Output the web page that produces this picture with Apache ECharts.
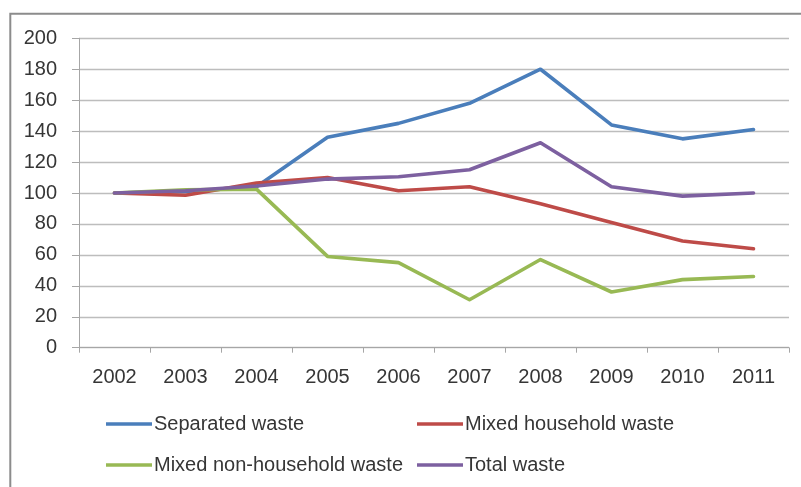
<!DOCTYPE html>
<html>
<head>
<meta charset="utf-8">
<script src="https://cdn.jsdelivr.net/npm/echarts@6/dist/echarts.min.js"></script>
<style>
  html, body { margin: 0; padding: 0; background: #fff; }
  #chart { width: 801px; height: 487px; }
</style>
</head>
<body>
<div id="chart"></div>
<script>
// Waste volume index (2002 = 100)
const years = ['2002', '2003', '2004', '2005', '2006', '2007', '2008', '2009', '2010', '2011'];
const separatedWaste = [100, 101, 104, 136, 145, 158, 180, 144, 135, 141];
const mixedHousehold = [100, 98.5, 106.5, 110, 101.5, 104, 93, 81, 69, 64];
const mixedNonHousehold = [100, 102, 102.5, 59, 55, 31, 57, 36, 44, 46];
const totalWaste = [100, 101.5, 104.5, 109, 110.5, 115, 132.5, 104, 98, 100];

const seriesNames = ['Separated waste', 'Mixed household waste', 'Mixed non-household waste', 'Total waste'];
const seriesValues = [separatedWaste, mixedHousehold, mixedNonHousehold, totalWaste];
const seriesColors = ['#4A7EBB', '#BE4B48', '#98B954', '#7D60A0'];

const FONT = '"Liberation Sans", Arial, sans-serif';
const TEXT_COLOR = '#363636';

// one legend entry per slot, laid out in two rows of two
const legendSlots = [
  { left: 106, top: 414 },
  { left: 417, top: 414 },
  { left: 106, top: 455 },
  { left: 417, top: 455 }
];

const chart = echarts.init(document.getElementById('chart'), null, { renderer: 'canvas' });

chart.setOption({
  animation: false,
  backgroundColor: '#fff',
  textStyle: { fontFamily: FONT },
  graphic: [{
    type: 'rect',
    shape: { x: 10.3, y: 13.7, width: 1200, height: 1000 },
    style: { fill: 'none', stroke: '#8c8c8c', lineWidth: 2 },
    silent: true,
    z: 0
  }],
  grid: { left: 79, right: 12, top: 38.3, bottom: 139.3, containLabel: false },
  legend: seriesNames.map((name, i) => ({
    data: [name],
    left: legendSlots[i].left,
    top: legendSlots[i].top,
    orient: 'horizontal',
    icon: 'rect',
    itemWidth: 46,
    itemHeight: 3.5,
    padding: 0,
    selectedMode: false,
    textStyle: {
      fontFamily: FONT, fontSize: 20, color: TEXT_COLOR,
      lineHeight: 20, padding: [0, 0, 0, -3]
    }
  })),
  xAxis: {
    type: 'category',
    data: years,
    boundaryGap: true,
    axisLine: { show: true, lineStyle: { color: '#a6a6a6', width: 1 } },
    axisTick: { show: true, length: 5, alignWithLabel: false, lineStyle: { color: '#a6a6a6' } },
    axisLabel: { fontFamily: FONT, fontSize: 20, color: TEXT_COLOR, margin: 20 },
    splitLine: { show: false }
  },
  yAxis: {
    type: 'value',
    min: 0,
    max: 200,
    interval: 20,
    axisLine: { show: true, lineStyle: { color: '#a6a6a6', width: 1 } },
    axisTick: { show: true, length: 7, lineStyle: { color: '#a6a6a6' } },
    axisLabel: { fontFamily: FONT, fontSize: 20, color: TEXT_COLOR, margin: 22 },
    splitLine: { show: true, lineStyle: { color: '#bdbdbd', width: 1.3 } }
  },
  series: seriesNames.map((name, i) => ({
    name: name,
    type: 'line',
    data: seriesValues[i],
    showSymbol: false,
    symbol: 'none',
    smooth: false,
    color: seriesColors[i],
    lineStyle: { color: seriesColors[i], width: 3.6, cap: 'round', join: 'round' },
    z: 2 + i
  }))
});
</script>
</body>
</html>
